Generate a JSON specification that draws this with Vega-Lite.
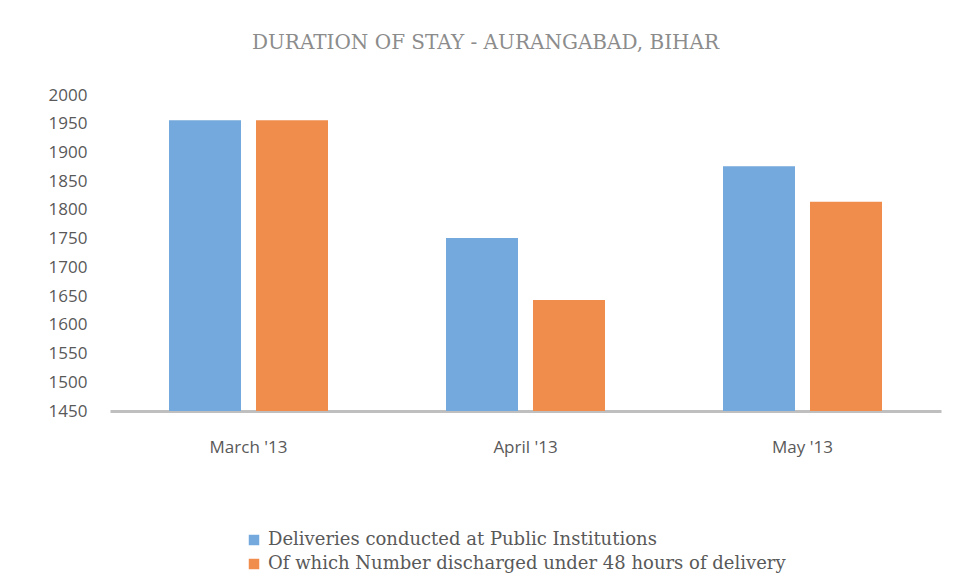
{
  "$schema": "https://vega.github.io/schema/vega-lite/v6.json",
  "autosize": "none",
  "width": 831,
  "height": 316,
  "padding": {"left": 110, "top": 95, "right": 16, "bottom": 173},
  "background": "white",
  "title": {
    "text": "DURATION OF STAY - AURANGABAD, BIHAR",
    "font": "DejaVu Serif",
    "fontSize": 20,
    "fontWeight": "normal",
    "color": "#8c8c8c",
    "anchor": "middle",
    "dx": -40,
    "offset": 33,
    "limit": 0
  },
  "data": {
    "values": [
      {"month": "March '13", "series": "Deliveries conducted at Public Institutions", "value": 1956},
      {"month": "March '13", "series": "Of which Number discharged under 48 hours of delivery", "value": 1956},
      {"month": "April '13", "series": "Deliveries conducted at Public Institutions", "value": 1751},
      {"month": "April '13", "series": "Of which Number discharged under 48 hours of delivery", "value": 1643},
      {"month": "May '13", "series": "Deliveries conducted at Public Institutions", "value": 1876},
      {"month": "May '13", "series": "Of which Number discharged under 48 hours of delivery", "value": 1814}
    ]
  },
  "mark": {"type": "bar", "clip": true},
  "encoding": {
    "x": {
      "field": "month",
      "type": "nominal",
      "sort": null,
      "scale": {"paddingInner": 0.426, "paddingOuter": 0.213},
      "axis": {
        "title": null,
        "labelAngle": 0,
        "labelFont": "Open Sans",
        "labelFontSize": 17,
        "labelColor": "#595959",
        "labelPadding": 28,
        "ticks": false,
        "domainColor": "#bfbfbf",
        "domainWidth": 3
      }
    },
    "xOffset": {
      "field": "series",
      "type": "nominal",
      "scale": {"paddingInner": 0.1724, "paddingOuter": 0}
    },
    "y": {
      "field": "value",
      "type": "quantitative",
      "scale": {"domain": [1450, 2000], "nice": false, "zero": false},
      "axis": {
        "title": null,
        "format": "d",
        "values": [1450, 1500, 1550, 1600, 1650, 1700, 1750, 1800, 1850, 1900, 1950, 2000],
        "grid": false,
        "domain": false,
        "ticks": false,
        "labelFont": "Open Sans",
        "labelFontSize": 17,
        "labelColor": "#595959",
        "labelPadding": 23
      }
    },
    "color": {
      "field": "series",
      "type": "nominal",
      "scale": {"range": ["#73a9dc", "#f18d4c"]},
      "legend": {
        "title": null,
        "orient": "none",
        "legendX": 135,
        "legendY": 436,
        "direction": "vertical",
        "symbolType": "square",
        "symbolSize": 110,
        "symbolStrokeWidth": 0,
        "labelOffset": 5,
        "labelFont": "DejaVu Serif",
        "labelFontSize": 18,
        "labelColor": "#595959",
        "labelLimit": 0,
        "rowPadding": 6
      }
    }
  },
  "config": {
    "view": {"stroke": null}
  }
}
